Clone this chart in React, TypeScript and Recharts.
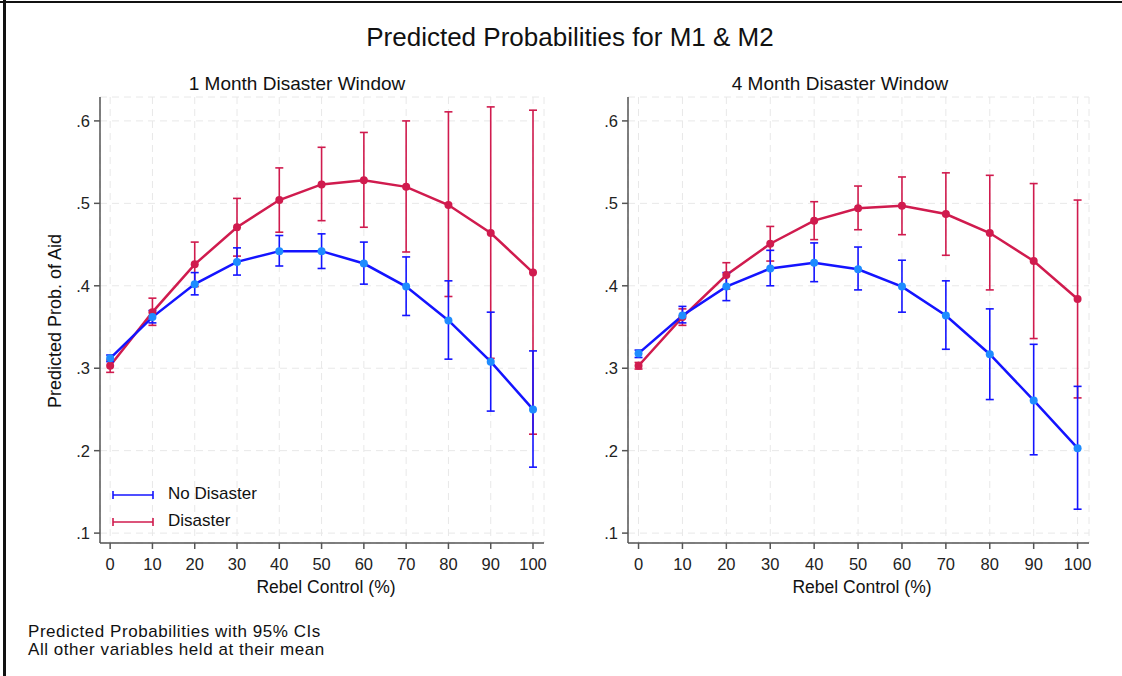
import {
  ComposedChart,
  Line,
  ErrorBar,
  XAxis,
  YAxis,
  CartesianGrid,
} from "recharts";

const rebelControl = [0, 10, 20, 30, 40, 50, 60, 70, 80, 90, 100];

// 1 month window
const noDis1 = [0.312, 0.362, 0.402, 0.429, 0.442, 0.442, 0.427, 0.399, 0.358, 0.308, 0.25];
const noDis1Lo = [0.308, 0.355, 0.389, 0.413, 0.424, 0.421, 0.402, 0.364, 0.311, 0.248, 0.18];
const noDis1Hi = [0.316, 0.37, 0.416, 0.446, 0.461, 0.463, 0.453, 0.435, 0.406, 0.368, 0.321];
const dis1 = [0.303, 0.368, 0.426, 0.471, 0.504, 0.523, 0.528, 0.52, 0.498, 0.464, 0.416];
const dis1Lo = [0.295, 0.352, 0.399, 0.436, 0.465, 0.479, 0.471, 0.441, 0.387, 0.312, 0.22];
const dis1Hi = [0.31, 0.385, 0.453, 0.506, 0.543, 0.568, 0.586, 0.6, 0.611, 0.617, 0.613];

// 4 month window
const noDis4 = [0.318, 0.364, 0.399, 0.421, 0.428, 0.42, 0.399, 0.364, 0.317, 0.261, 0.203];
const noDis4Lo = [0.313, 0.355, 0.382, 0.4, 0.405, 0.395, 0.368, 0.323, 0.262, 0.195, 0.129];
const noDis4Hi = [0.322, 0.375, 0.416, 0.443, 0.452, 0.447, 0.431, 0.406, 0.372, 0.329, 0.278];
const dis4 = [0.303, 0.362, 0.413, 0.451, 0.479, 0.494, 0.497, 0.487, 0.464, 0.43, 0.384];
const dis4Lo = [0.299, 0.352, 0.396, 0.43, 0.456, 0.468, 0.462, 0.437, 0.395, 0.336, 0.264];
const dis4Hi = [0.307, 0.372, 0.428, 0.472, 0.502, 0.521, 0.532, 0.537, 0.534, 0.524, 0.504];

const yTicks = [0.1, 0.2, 0.3, 0.4, 0.5, 0.6];
const xTicks = rebelControl;

const BLUE = "#1414ff";
const BLUE_DOT = "#1e8cff";
const RED = "#d01b4e";
const FONT = "'Liberation Sans', Arial, sans-serif";

function buildRows(nd: number[], ndLo: number[], ndHi: number[], d: number[], dLo: number[], dHi: number[]) {
  return rebelControl.map((x, i) => ({
    x,
    noDis: nd[i],
    noDisErr: [nd[i] - ndLo[i], ndHi[i] - nd[i]],
    dis: d[i],
    disErr: [d[i] - dLo[i], dHi[i] - d[i]],
  }));
}

const rows1 = buildRows(noDis1, noDis1Lo, noDis1Hi, dis1, dis1Lo, dis1Hi);
const rows4 = buildRows(noDis4, noDis4Lo, noDis4Hi, dis4, dis4Lo, dis4Hi);

const fmtY = (v: number) => "." + Math.round(v * 10);

function Panel({ data, width, left, marginLeft, marginRight }: any) {
  const tick = { fill: "#222", fontSize: 16.5, fontFamily: FONT };
  return (
    <div style={{ position: "absolute", left, top: 0 }}>
      <ComposedChart
        width={width}
        height={600}
        data={data}
        margin={{ top: 97, right: marginRight, bottom: 27, left: marginLeft }}
      >
        <CartesianGrid stroke="#e8e8e8" strokeDasharray="7 5" />
        <XAxis
          dataKey="x"
          type="number"
          domain={[-2.4, 102.6]}
          ticks={xTicks}
          tick={tick}
          tickSize={6}
          tickMargin={9}
          height={30}
          stroke="#555"
          strokeWidth={1.5}
        />
        <YAxis
          type="number"
          domain={[0.088, 0.629]}
          ticks={yTicks}
          tickFormatter={fmtY}
          tick={tick}
          tickSize={6}
          tickMargin={4}
          width={40}
          stroke="#555"
          strokeWidth={1.5}
        />
        <Line
          dataKey="dis"
          stroke={RED}
          strokeWidth={2.5}
          dot={{ r: 4, fill: RED, stroke: RED, strokeWidth: 0 }}
          activeDot={false}
          isAnimationActive={false}
        >
          <ErrorBar dataKey="disErr" direction="y" width={4} stroke={RED} strokeWidth={1.6} isAnimationActive={false} />
        </Line>
        <Line
          dataKey="noDis"
          stroke={BLUE}
          strokeWidth={2.5}
          dot={{ r: 4, fill: BLUE_DOT, stroke: BLUE_DOT, strokeWidth: 0 }}
          activeDot={false}
          isAnimationActive={false}
        >
          <ErrorBar dataKey="noDisErr" direction="y" width={4} stroke={BLUE} strokeWidth={1.6} isAnimationActive={false} />
        </Line>
      </ComposedChart>
    </div>
  );
}

function LegendKey({ color }: { color: string }) {
  return (
    <svg width={44} height={10} style={{ verticalAlign: "middle" }}>
      <line x1={2} y1={5} x2={42} y2={5} stroke={color} strokeWidth={1.6} />
      <line x1={2} y1={1} x2={2} y2={9} stroke={color} strokeWidth={1.6} />
      <line x1={42} y1={1} x2={42} y2={9} stroke={color} strokeWidth={1.6} />
    </svg>
  );
}

const text = (s: any) => ({ position: "absolute" as const, fontFamily: FONT, color: "#111", whiteSpace: "nowrap" as const, ...s });

export default function App() {
  return (
    <div style={{ position: "absolute", left: 0, top: 0, width: 1122, height: 676, background: "#fff", overflow: "hidden" }}>
      <div style={{ position: "absolute", left: 0, top: 1, width: 1122, height: 2, background: "#111" }} />
      <div style={{ position: "absolute", left: 3, top: 0, width: 3, height: 676, background: "#111" }} />

      <Panel data={rows1} width={560} left={0} marginLeft={60} marginRight={16} />
      <Panel data={rows4} width={562} left={560} marginLeft={28} marginRight={33} />

      <div style={text({ left: 0, width: 1140, top: 22, textAlign: "center", fontSize: 26 })}>
        Predicted Probabilities for M1 &amp; M2
      </div>
      <div style={text({ left: 100, width: 394, top: 73, textAlign: "center", fontSize: 19 })}>
        1 Month Disaster Window
      </div>
      <div style={text({ left: 628, width: 424, top: 73, textAlign: "center", fontSize: 19 })}>
        4 Month Disaster Window
      </div>
      <div style={text({ left: 100, width: 452, top: 577, textAlign: "center", fontSize: 17.5 })}>
        Rebel Control (%)
      </div>
      <div style={text({ left: 628, width: 468, top: 577, textAlign: "center", fontSize: 17.5 })}>
        Rebel Control (%)
      </div>
      <div
        style={text({
          left: 55,
          top: 321,
          fontSize: 18,
          transform: "translate(-50%, -50%) rotate(-90deg)",
        })}
      >
        Predicted Prob. of Aid
      </div>

      <div style={text({ left: 111, top: 484, fontSize: 17 })}>
        <LegendKey color={BLUE} />
        <span style={{ marginLeft: 13 }}>No Disaster</span>
      </div>
      <div style={text({ left: 111, top: 511, fontSize: 17 })}>
        <LegendKey color={RED} />
        <span style={{ marginLeft: 13 }}>Disaster</span>
      </div>

      <div style={text({ left: 28, top: 623, fontSize: 17, lineHeight: "17px", letterSpacing: "0.55px" })}>
        Predicted Probabilities with 95% CIs
      </div>
      <div style={text({ left: 28, top: 641, fontSize: 17, lineHeight: "17px", letterSpacing: "0.55px" })}>
        All other variables held at their mean
      </div>
    </div>
  );
}
